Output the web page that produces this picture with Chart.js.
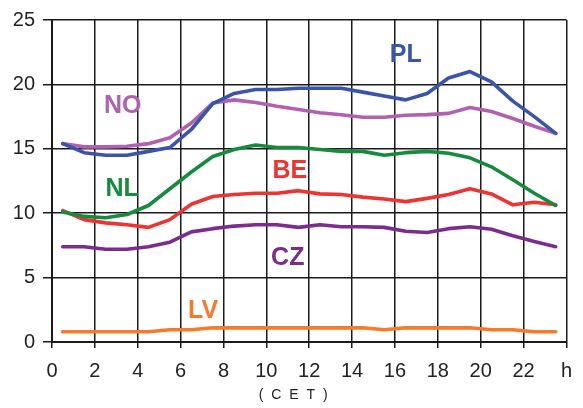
<!DOCTYPE html>
<html>
<head>
<meta charset="utf-8">
<script src="https://cdn.jsdelivr.net/npm/chart.js@4.4.1/dist/chart.umd.min.js"></script>
<style>
  html, body { margin: 0; padding: 0; background: #fff; }
  #wrap { width: 583px; height: 408px; }
</style>
</head>
<body>
<div id="wrap"><canvas id="loadChart"></canvas></div>
<script>
// hours (CET), values sampled at the middle of every hour
const hours = [0.5, 1.5, 2.5, 3.5, 4.5, 5.5, 6.5, 7.5, 8.5, 9.5, 10.5, 11.5,
               12.5, 13.5, 14.5, 15.5, 16.5, 17.5, 18.5, 19.5, 20.5, 21.5, 22.5, 23.5];

const plValues = [15.4, 14.7, 14.5, 14.5, 14.8, 15.1, 16.5, 18.5, 19.3, 19.6, 19.6, 19.7,
                  19.7, 19.7, 19.4, 19.1, 18.8, 19.3, 20.5, 21.0, 20.2, 18.7, 17.5, 16.2];
const noValues = [15.4, 15.15, 15.15, 15.2, 15.4, 15.85, 17.0, 18.55, 18.8, 18.6, 18.3, 18.05,
                  17.8, 17.65, 17.45, 17.45, 17.6, 17.65, 17.75, 18.2, 17.9, 17.35, 16.75, 16.2];
const nlValues = [10.1, 9.75, 9.65, 9.9, 10.6, 11.9, 13.2, 14.4, 14.95, 15.3, 15.1, 15.1,
                  14.95, 14.8, 14.8, 14.5, 14.7, 14.8, 14.65, 14.3, 13.6, 12.6, 11.55, 10.6];
const beValues = [10.2, 9.5, 9.25, 9.1, 8.9, 9.5, 10.7, 11.3, 11.45, 11.55, 11.55, 11.75,
                  11.5, 11.45, 11.25, 11.1, 10.9, 11.15, 11.45, 11.9, 11.5, 10.65, 10.85, 10.65];
const czValues = [7.4, 7.4, 7.2, 7.2, 7.4, 7.75, 8.55, 8.8, 9.0, 9.1, 9.1, 8.9,
                  9.1, 8.95, 8.95, 8.9, 8.6, 8.5, 8.8, 8.95, 8.75, 8.25, 7.8, 7.4];
const lvValues = [0.8, 0.8, 0.8, 0.8, 0.8, 0.95, 0.95, 1.1, 1.1, 1.1, 1.1, 1.1,
                  1.1, 1.1, 1.1, 0.95, 1.1, 1.1, 1.1, 1.1, 0.95, 0.95, 0.8, 0.8];

const countries = ['PL', 'NO', 'NL', 'BE', 'CZ', 'LV'];
const yTicks = [0, 5, 10, 15, 20, 25];
const xTickLabels = ['0', '2', '4', '6', '8', '10', '12', '14', '16', '18', '20', '22', 'h'];

const colors = {
  PL: '#3a55a7',
  NO: '#b061b0',
  NL: '#168a3f',
  BE: '#ee3333',
  CZ: '#7b2c8f',
  LV: '#f47a2f'
};

// where each country name is written, in axis units
const labelSpots = {
  PL: [16.5, 22.3],
  NO: [3.3, 18.3],
  NL: [3.27, 11.9],
  BE: [11.1, 13.3],
  CZ: [11.0, 6.55],
  LV: [7.05, 2.4]
};

const seriesValues = [plValues, noValues, nlValues, beValues, czValues, lvValues];

const datasets = countries.map((c, i) => ({
  label: c,
  data: hours.map((h, j) => ({ x: h, y: seriesValues[i][j] })),
  borderColor: colors[c],
  backgroundColor: colors[c],
  borderWidth: 3.6,
  pointRadius: 0,
  tension: 0,
  borderJoinStyle: 'round',
  borderCapStyle: 'round'
}));

// country names + (CET) caption
const labelPlugin = {
  id: 'countryLabels',
  afterDatasetsDraw(chart) {
    const ctx = chart.ctx;
    const xs = chart.scales.x, ys = chart.scales.y;
    ctx.save();
    ctx.font = 'bold 25px "Liberation Sans", Arial, sans-serif';
    ctx.textAlign = 'center';
    ctx.textBaseline = 'middle';
    countries.forEach(c => {
      const p = labelSpots[c];
      ctx.fillStyle = colors[c];
      ctx.fillText(c, xs.getPixelForValue(p[0]), ys.getPixelForValue(p[1]));
    });
    ctx.font = '14px "Liberation Sans", Arial, sans-serif';
    ctx.letterSpacing = '2px';
    ctx.fillStyle = '#222';
    ctx.fillText('( C E T )', xs.getPixelForValue(11.3), 395);
    ctx.restore();
  }
};

const config = {
  type: 'line',
  data: { datasets: datasets },
  options: {
    responsive: true,
    maintainAspectRatio: false,
    animation: false,
    layout: { padding: { top: 17, right: 13, left: 0, bottom: 0 } },
    plugins: {
      legend: { display: false },
      tooltip: { enabled: false }
    },
    scales: {
      x: {
        type: 'linear',
        min: 0,
        max: 24,
        afterFit: s => { s.height = 66; },
        afterBuildTicks: s => { s.ticks = xTickLabels.map((t, i) => ({ value: i * 2 })); },
        ticks: {
          callback: (v, i) => xTickLabels[i],
          color: '#222',
          font: { family: '"Liberation Sans", Arial, sans-serif', size: 20 },
          padding: 11,
          maxRotation: 0,
          autoSkip: false
        },
        grid: { color: '#1a1a1a', lineWidth: 1.5, tickLength: 6 },
        border: { color: '#1a1a1a', width: 2 }
      },
      y: {
        min: 0,
        max: 25,
        afterFit: s => { s.width = 52; },
        afterBuildTicks: s => { s.ticks = yTicks.map(v => ({ value: v })); },
        ticks: {
          color: '#222',
          font: { family: '"Liberation Sans", Arial, sans-serif', size: 20 },
          padding: 8
        },
        grid: { color: '#1a1a1a', lineWidth: 1.5, tickLength: 9 },
        border: { color: '#1a1a1a', width: 2 }
      }
    }
  },
  plugins: [labelPlugin]
};

const ctx = document.getElementById('loadChart').getContext('2d');
new Chart(ctx, config);
</script>
</body>
</html>
